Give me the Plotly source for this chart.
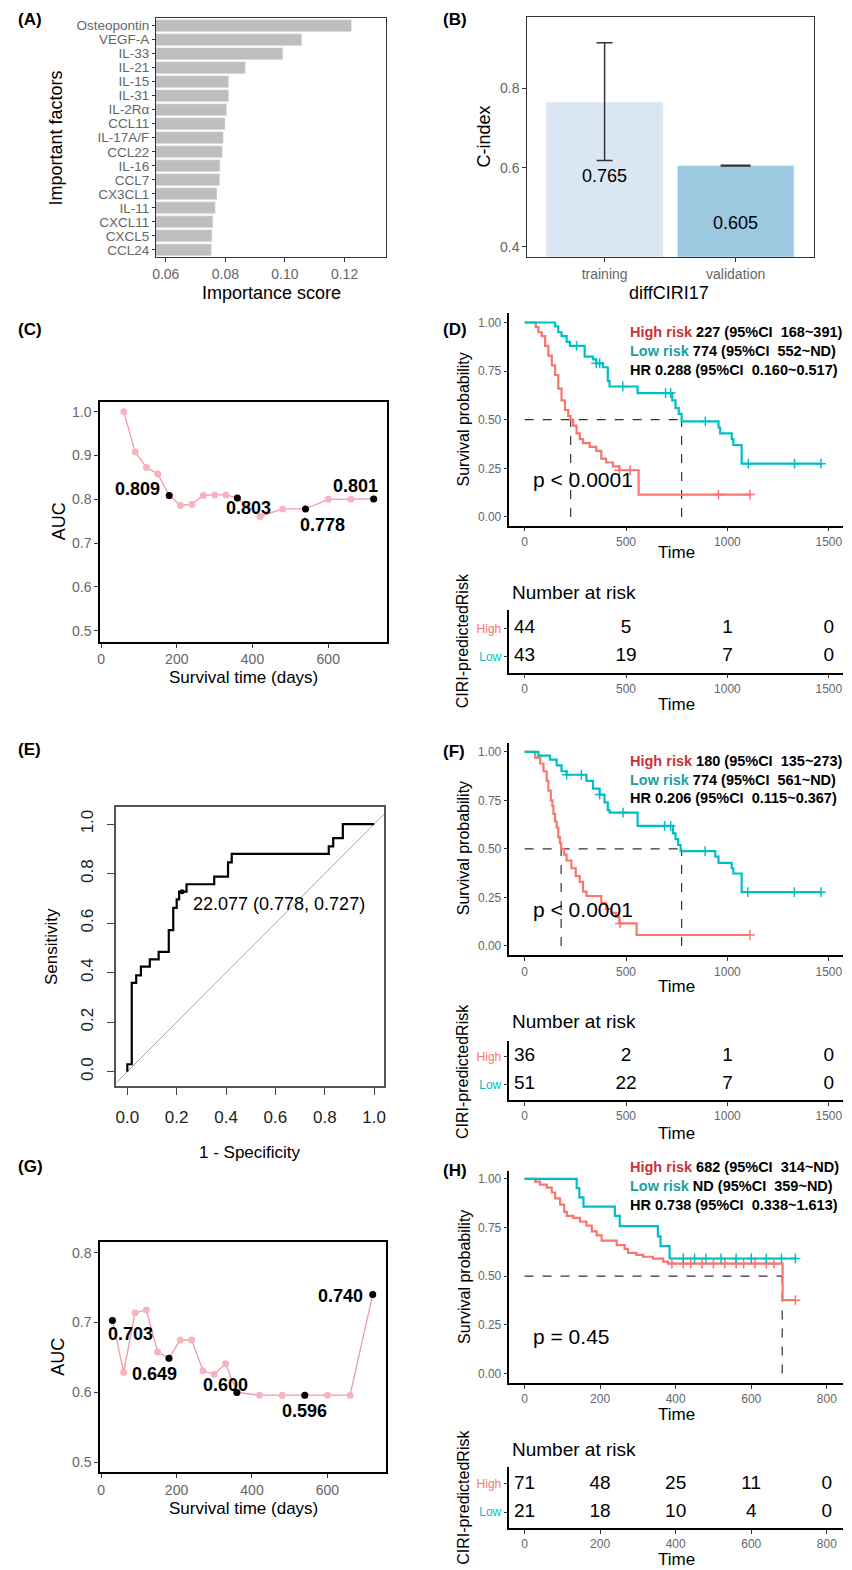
import plotly.graph_objects as go
import numpy as np

W, H = 852, 1570
FONT = "Liberation Sans, Arial, sans-serif"
NARROW = "Liberation Sans, Arial, sans-serif"
GREY = "#666666"
RED = "#F8766D"
TEAL = "#00BFC4"

# ---------------- data ----------------
factors = ["Osteopontin", "VEGF-A", "IL-33", "IL-21", "IL-15", "IL-31", "IL-2Rα", "CCL11",
           "IL-17A/F", "CCL22", "IL-16", "CCL7", "CX3CL1", "IL-11", "CXCL11", "CXCL5", "CCL24"]
importance = [0.1223, 0.1056, 0.0993, 0.0867, 0.0811, 0.0811, 0.0804, 0.0799,
              0.0793, 0.0790, 0.0782, 0.0781, 0.0772, 0.0766, 0.0758, 0.0755, 0.0753]

cohorts = ["training", "validation"]
cindex = [0.765, 0.605]
cindex_hi = [0.915, 0.606]
cindex_lo = [0.618, 0.604]

auc_c_days = [60, 90, 120, 150, 180, 210, 240, 270, 300, 330, 360, 420, 480, 540, 600, 660, 720]
auc_c = [1.0, 0.908, 0.873, 0.858, 0.809, 0.786, 0.789, 0.809, 0.81, 0.81, 0.803, 0.761, 0.778,
         0.778, 0.80, 0.80, 0.801]
auc_c_marked = [180, 360, 540, 720]

auc_g_days = [30, 60, 90, 120, 150, 180, 210, 240, 270, 300, 330, 360, 420, 480, 540, 600, 660, 720]
auc_g = [0.703, 0.629, 0.714, 0.718, 0.658, 0.649, 0.675, 0.675, 0.631, 0.626, 0.641, 0.600,
         0.596, 0.596, 0.596, 0.596, 0.596, 0.740]
auc_g_marked = [30, 180, 360, 540, 720]

roc_fpr = [0, 0.018, 0.036, 0.055, 0.091, 0.127, 0.168, 0.186, 0.2, 0.21, 0.24, 0.352, 0.408,
           0.423, 0.816, 0.834, 0.873, 1.0]
roc_tpr = [0, 0.03, 0.359, 0.389, 0.424, 0.454, 0.484, 0.572, 0.662, 0.696, 0.727, 0.757, 0.788,
           0.845, 0.88, 0.91, 0.943, 1.0]
roc_cut_fpr, roc_cut_tpr = 0.222, 0.727
roc_cut_label = "22.077 (0.778, 0.727)"

# KM (D)
d_high_t = [0, 55, 68, 85, 101, 117, 134, 150, 166, 182, 199, 215, 226, 239, 256, 272, 288, 321,
            353, 378, 402, 435, 467, 562, 1115]
d_high_s = [1.0, 0.977, 0.95, 0.93, 0.88, 0.83, 0.78, 0.73, 0.66, 0.60, 0.55, 0.52, 0.50, 0.47,
            0.43, 0.40, 0.38, 0.36, 0.34, 0.30, 0.28, 0.26, 0.24, 0.115, 0.115]
d_low_t = [0, 150, 166, 182, 207, 223, 296, 337, 353, 386, 410, 419, 557, 728, 744, 760, 774,
           956, 964, 1021, 1029, 1070, 1465]
d_low_s = [1.0, 0.98, 0.95, 0.93, 0.90, 0.88, 0.825, 0.81, 0.79, 0.77, 0.70, 0.671, 0.637, 0.60,
           0.56, 0.53, 0.491, 0.46, 0.43, 0.40, 0.37, 0.274, 0.274]
d_high_cens = [467, 520, 956, 1111]
d_low_cens = [256, 353, 370, 484, 695, 720, 891, 1103, 1331, 1461]
d_medians = [227, 774]
d_text = ["227 (95%CI\u00a0\u00a0168~391)", "774 (95%CI\u00a0\u00a0552~ND)", "HR 0.288 (95%CI\u00a0\u00a00.160~0.517)"]
d_p = "p < 0.0001"
d_times = [0, 500, 1000, 1500]
d_risk_high = [44, 5, 1, 0]
d_risk_low = [43, 19, 7, 0]

# KM (F)
f_high_t = [0, 52, 77, 93, 109, 117, 129, 137, 142, 150, 158, 166, 174, 180, 194, 207, 231, 252,
            272, 288, 305, 378, 402, 427, 451, 467, 552, 1111]
f_high_s = [1.0, 0.97, 0.94, 0.90, 0.85, 0.80, 0.75, 0.72, 0.68, 0.64, 0.61, 0.56, 0.53, 0.50,
            0.47, 0.44, 0.40, 0.36, 0.33, 0.28, 0.257, 0.22, 0.19, 0.17, 0.15, 0.116, 0.056, 0.056]
f_low_t = [0, 68, 125, 158, 182, 207, 305, 337, 370, 394, 410, 419, 557, 731, 744, 757, 769, 940,
           956, 1021, 1029, 1070, 1465]
f_low_s = [1.0, 0.98, 0.96, 0.93, 0.90, 0.882, 0.85, 0.81, 0.78, 0.74, 0.70, 0.687, 0.618, 0.58,
           0.55, 0.52, 0.488, 0.46, 0.428, 0.40, 0.373, 0.277, 0.277]
f_high_cens = [470, 1111]
f_low_cens = [207, 280, 370, 485, 690, 720, 890, 1100, 1330, 1461]
f_medians = [180, 774]
f_text = ["180 (95%CI\u00a0\u00a0135~273)", "774 (95%CI\u00a0\u00a0561~ND)", "HR 0.206 (95%CI\u00a0\u00a00.115~0.367)"]
f_p = "p < 0.0001"
f_times = [0, 500, 1000, 1500]
f_risk_high = [36, 2, 1, 0]
f_risk_low = [51, 22, 7, 0]

# KM (H)
h_high_t = [0, 28, 41, 59, 72, 81, 94, 105, 112, 129, 147, 164, 178, 191, 204, 244, 265, 274, 296,
            314, 340, 367, 380, 683, 717]
h_high_s = [1.0, 0.986, 0.97, 0.955, 0.93, 0.90, 0.868, 0.83, 0.81, 0.80, 0.78, 0.76, 0.73, 0.71,
            0.683, 0.66, 0.64, 0.62, 0.61, 0.60, 0.59, 0.575, 0.565, 0.377, 0.377]
h_low_t = [0, 138, 145, 156, 239, 252, 353, 360, 384, 717]
h_low_s = [1.0, 0.952, 0.905, 0.857, 0.81, 0.757, 0.705, 0.654, 0.591, 0.591]
h_high_cens = [390, 420, 440, 470, 500, 530, 560, 580, 610, 640, 660, 717]
h_low_cens = [420, 450, 480, 520, 560, 600, 640, 680, 717]
h_medians = [682]
h_text = ["682 (95%CI\u00a0\u00a0314~ND)", "ND (95%CI\u00a0\u00a0359~ND)", "HR 0.738 (95%CI\u00a0\u00a00.338~1.613)"]
h_p = "p = 0.45"
h_times = [0, 200, 400, 600, 800]
h_risk_high = [71, 48, 25, 11, 0]
h_risk_low = [21, 18, 10, 4, 0]

# ---------------- helpers ----------------
fig = go.Figure()
annotations = []
layout = {}


def xdom(a, b):
    return [a / W, b / W]


def ydom(top, bottom):
    return [1 - bottom / H, 1 - top / H]


def key(prefix, n):
    return prefix if n == 1 else f"{prefix}{n}"


def ref(prefix, n):
    return prefix if n == 1 else f"{prefix}{n}"


def ann(text, x, y, size, color="black", bold=False, xanchor="center", angle=0, family=FONT):
    annotations.append(dict(text=f"<b>{text}</b>" if bold else text, x=x / W, y=1 - y / H,
                            xref="paper", yref="paper", showarrow=False, xanchor=xanchor,
                            yanchor="middle", textangle=angle,
                            font=dict(size=size, color=color, family=family)))


def base_axis(**kw):
    d = dict(showgrid=False, zeroline=False, ticks="outside", ticklen=4, tickcolor="#333",
             tickfont=dict(size=14, color=GREY, family=FONT), showline=True, linecolor="#333",
             linewidth=1, mirror=False)
    d.update(kw)
    return d


def set_axes(n, xkw, ykw):
    xkw = dict(xkw)
    ykw = dict(ykw)
    xkw["anchor"] = ref("y", n)
    ykw["anchor"] = ref("x", n)
    layout[key("xaxis", n)] = xkw
    layout[key("yaxis", n)] = ykw


def surv_at(ts, ss, t):
    i = int(np.searchsorted(np.array(ts), t, side="right")) - 1
    return ss[max(i, 0)]


# ---------------- (A) ----------------
fig.add_trace(go.Bar(x=importance, y=factors, orientation="h", marker_color="#BEBEBE",
                     width=0.85, xaxis="x", yaxis="y"))
set_axes(1,
         base_axis(domain=xdom(153, 385), range=[0.0567, 0.134], tickvals=[0.06, 0.08, 0.10, 0.12],
                   ticktext=["0.06", "0.08", "0.10", "0.12"], mirror=True),
         base_axis(domain=ydom(18, 257), type="category", categoryorder="array",
                   categoryarray=factors, range=[16.5, -0.55], tickmode="array",
                   tickvals=factors, ticktext=factors, ticklen=3,
                   tickfont=dict(size=13.5, color=GREY, family=FONT), mirror=True))
ann("(A)", 12, 20, 17, bold=True, xanchor="left")
ann("Important factors", 52, 138, 18, angle=-90)
ann("Importance score", 269, 293, 18)

# ---------------- (B) ----------------
bar_cols = ["#DAE7F3", "#9DC9E0"]
cap_w = [8, 15]
for i in range(2):
    fig.add_trace(go.Bar(x=[cohorts[i]], y=[cindex[i]], marker_color=bar_cols[i], width=0.89,
                         error_y=dict(type="data", symmetric=False,
                                      array=[cindex_hi[i] - cindex[i]],
                                      arrayminus=[cindex[i] - cindex_lo[i]],
                                      color="#333", thickness=1.5, width=cap_w[i]),
                         xaxis="x2", yaxis="y2"))
set_axes(2,
         base_axis(domain=xdom(527, 816), type="category", categoryorder="array",
                   categoryarray=cohorts, range=[-0.59, 1.6], mirror=True),
         base_axis(domain=ydom(17, 257), range=[0.375, 0.98], tickvals=[0.4, 0.6, 0.8],
                   ticktext=["0.4", "0.6", "0.8"], mirror=True))
bar_label_y = [0.58, 0.4615]
for i in range(2):
    annotations.append(dict(text=f"{cindex[i]:.3f}", x=cohorts[i], y=bar_label_y[i], xref="x2",
                            yref="y2", showarrow=False, font=dict(size=18, color="black", family=FONT)))
ann("(B)", 440, 20, 17, bold=True, xanchor="left")
ann("C-index", 483, 137, 18, angle=-90)
ann("diffCIRI17", 670, 293, 18)


# ---------------- (C) and (G) ----------------
def auc_panel(n, days, vals, marked, xd, yd, yrange, yticks, offsets):
    xs, ys = "x" + str(n), "y" + str(n)
    fig.add_trace(go.Scatter(x=days, y=vals, mode="lines+markers",
                             line=dict(color="#F29AA0", width=1.3),
                             marker=dict(color="#F6B3C0", size=7), xaxis=xs, yaxis=ys))
    mv = [vals[days.index(d)] for d in marked]
    fig.add_trace(go.Scatter(x=marked, y=mv, mode="markers", marker=dict(color="black", size=7),
                             xaxis=xs, yaxis=ys))
    for d, v, (dx, dy) in zip(marked, mv, offsets):
        annotations.append(dict(text=f"<b>{v:.3f}</b>", x=d, y=v, xref=xs, yref=ys, showarrow=False,
                                xshift=dx, yshift=dy, font=dict(size=18, color="black", family=FONT)))
    set_axes(n,
             base_axis(domain=xd, range=[-2, 756], tickvals=[0, 200, 400, 600],
                       linecolor="black", linewidth=2, mirror=True),
             base_axis(domain=yd, range=yrange, tickvals=yticks,
                       ticktext=[f"{t:.1f}" for t in yticks],
                       linecolor="black", linewidth=2, mirror=True))


auc_panel(3, auc_c_days, auc_c, auc_c_marked, xdom(97, 386), ydom(402, 642), [0.475, 1.023],
          [0.5, 0.6, 0.7, 0.8, 0.9, 1.0], [(-32, 6), (11, -10), (17, -16), (-18, 13)])
ann("(C)", 12, 330, 17, bold=True, xanchor="left")
ann("AUC", 55, 522, 18, angle=-90)
ann("Survival time (days)", 241, 678, 17)

auc_panel(9, auc_g_days, auc_g, auc_g_marked, xdom(97, 385), ydom(1243, 1473), [0.486, 0.815],
          [0.5, 0.6, 0.7, 0.8], [(18, -14), (-14, -16), (-11, 7), (0, -16), (-32, -1)])
ann("(G)", 12, 1167, 17, bold=True, xanchor="left")
ann("AUC", 55, 1358, 18, angle=-90)
ann("Survival time (days)", 241, 1509, 17)

# ---------------- (E) ROC ----------------
fig.add_trace(go.Scatter(x=[-0.2, 1.2], y=[-0.2, 1.2], mode="lines",
                         line=dict(color="#AAAAAA", width=1), xaxis="x6", yaxis="y6"))
fig.add_trace(go.Scatter(x=roc_fpr, y=roc_tpr, mode="lines", line=dict(color="black", width=2.2, shape="vh"),
                         xaxis="x6", yaxis="y6"))
fig.add_trace(go.Scatter(x=[roc_cut_fpr], y=[roc_cut_tpr], mode="markers",
                         marker=dict(color="black", size=5), xaxis="x6", yaxis="y6"))
annotations.append(dict(text=roc_cut_label, x=roc_cut_fpr, y=roc_cut_tpr, xref="x6", yref="y6",
                        showarrow=False, xanchor="left", xshift=9, yshift=-12,
                        font=dict(size=18, color="black", family=FONT)))
roc_ticks = [0, 0.2, 0.4, 0.6, 0.8, 1.0]
set_axes(6,
         base_axis(domain=xdom(113, 383), range=[-0.045, 1.041], tickvals=roc_ticks,
                   ticktext=[f"{t:.1f}" for t in roc_ticks], ticklen=7, tickcolor="#444",
                   tickfont=dict(size=17, color="#222", family=FONT), ticklabelstandoff=8,
                   linecolor="#555", linewidth=1.5, mirror=True),
         base_axis(domain=ydom(808, 1087), range=[-0.059, 1.067], tickvals=roc_ticks,
                   ticktext=[f"{t:.1f}" for t in roc_ticks], ticklen=7, tickcolor="#444",
                   tickangle=-90, tickfont=dict(size=17, color="#222", family=FONT),
                   ticklabelstandoff=8, linecolor="#555", linewidth=1.5, mirror=True))
ann("(E)", 12, 750, 17, bold=True, xanchor="left")
ann("Sensitivity", 48, 947, 17, angle=-90)
ann("1 - Specificity", 248, 1153, 17)


# ---------------- KM panels ----------------
def km_panel(n, high_t, high_s, low_t, low_s, hc, lc, medians, texts, xd, yd, yrange, xrange,
             xticks, top):
    xs, ys = ref("x", n), ref("y", n)
    mx = max(medians)
    fig.add_trace(go.Scatter(x=[0, mx], y=[0.5, 0.5], mode="lines",
                             line=dict(color="#333", width=1.2, dash="dash"), xaxis=xs, yaxis=ys))
    for m in medians:
        fig.add_trace(go.Scatter(x=[m, m], y=[0, 0.5], mode="lines",
                                 line=dict(color="#333", width=1.2, dash="dash"), xaxis=xs, yaxis=ys))
    for ts, ss, cens, col in [(high_t, high_s, hc, RED), (low_t, low_s, lc, TEAL)]:
        fig.add_trace(go.Scatter(x=ts, y=ss, mode="lines", line=dict(color=col, width=2.2, shape="hv"),
                                 xaxis=xs, yaxis=ys))
        fig.add_trace(go.Scatter(x=cens, y=[surv_at(ts, ss, c) for c in cens], mode="markers",
                                 marker=dict(symbol="cross-thin", size=7, line=dict(color=col, width=1.5)),
                                 xaxis=xs, yaxis=ys))
    set_axes(n,
             base_axis(domain=xd, range=xrange, tickvals=xticks, linecolor="black", linewidth=1.5,
                       tickfont=dict(size=12, color=GREY, family=FONT)),
             base_axis(domain=yd, range=yrange, tickvals=[0, 0.25, 0.5, 0.75, 1.0],
                       ticktext=["0.00", "0.25", "0.50", "0.75", "1.00"], linecolor="black",
                       linewidth=1.5, tickfont=dict(size=12, color=GREY, family=FONT)))
    labels = ["<span style='color:#C9313A'>High risk</span> ", "<span style='color:#20A0A0'>Low risk</span> ", ""]
    for i, t in enumerate(texts):
        ann(labels[i] + t, 628, top + i * 19, 14.5, bold=True, xanchor="left", family=NARROW)


def risk_table(n, times, hi, lo, xd, yd, yrange, xrange):
    xs, ys = ref("x", n), ref("y", n)
    fig.add_trace(go.Scatter(x=times, y=[2] * len(times), mode="text", text=[str(v) for v in hi],
                             textfont=dict(size=19, color="black", family=FONT), cliponaxis=False,
                             xaxis=xs, yaxis=ys))
    fig.add_trace(go.Scatter(x=times, y=[1] * len(times), mode="text", text=[str(v) for v in lo],
                             textfont=dict(size=19, color="black", family=FONT), cliponaxis=False,
                             xaxis=xs, yaxis=ys))
    set_axes(n,
             base_axis(domain=xd, range=xrange, tickvals=times, linecolor="black", linewidth=1.5,
                       tickfont=dict(size=12, color=GREY, family=FONT)),
             base_axis(domain=yd, range=yrange, tickvals=[2, 1],
                       ticktext=[f"<span style='color:{RED}'>High</span>",
                                 f"<span style='color:{TEAL}'>Low</span>"],
                       linecolor="black", linewidth=1.5, tickfont=dict(size=12, color=GREY, family=FONT)))


# D
km_panel(4, d_high_t, d_high_s, d_low_t, d_low_s, d_high_cens, d_low_cens, d_medians, d_text,
         xdom(509, 845), ydom(313, 526), [-0.045, 1.05], [-75, 1570], d_times, 332)
ann("(D)", 440, 330, 17, bold=True, xanchor="left")
ann(d_p, 531, 480, 21, xanchor="left")
ann("Survival probability", 463, 420, 16, angle=-90)
ann("Time", 677, 553, 17)
risk_table(5, d_times, d_risk_high, d_risk_low, xdom(509, 845), ydom(610, 673), [0.43, 2.68], [-75, 1570])
ann("Number at risk", 510, 593, 19, xanchor="left")
ann("CIRI-predictedRisk", 462, 641, 16, angle=-90)
ann("Time", 677, 705, 17)

# F
km_panel(7, f_high_t, f_high_s, f_low_t, f_low_s, f_high_cens, f_low_cens, f_medians, f_text,
         xdom(509, 845), ydom(743, 956), [-0.049, 1.048], [-75, 1570], f_times, 761)
ann("(F)", 440, 752, 17, bold=True, xanchor="left")
ann(f_p, 531, 910, 21, xanchor="left")
ann("Survival probability", 463, 849, 16, angle=-90)
ann("Time", 677, 987, 17)
risk_table(8, f_times, f_risk_high, f_risk_low, xdom(509, 845), ydom(1042, 1101), [0.43, 2.54], [-75, 1570])
ann("Number at risk", 510, 1022, 19, xanchor="left")
ann("CIRI-predictedRisk", 462, 1072, 16, angle=-90)
ann("Time", 677, 1134, 17)

# H
km_panel(10, h_high_t, h_high_s, h_low_t, h_low_s, h_high_cens, h_low_cens, h_medians, h_text,
         xdom(509, 845), ydom(1172, 1384), [-0.049, 1.039], [-40, 843], h_times, 1168)
ann("(H)", 440, 1171, 17, bold=True, xanchor="left")
ann(h_p, 531, 1337, 21, xanchor="left")
ann("Survival probability", 463, 1278, 16, angle=-90)
ann("Time", 677, 1415, 17)
risk_table(11, h_times, h_risk_high, h_risk_low, xdom(509, 845), ydom(1468, 1529), [0.43, 2.6], [-40, 843])
ann("Number at risk", 510, 1450, 19, xanchor="left")
ann("CIRI-predictedRisk", 462, 1498, 16, angle=-90)
ann("Time", 677, 1560, 17)

fig.update_layout(width=W, height=H, margin=dict(l=0, r=0, t=0, b=0), showlegend=False,
                  plot_bgcolor="white", paper_bgcolor="white", font=dict(family=FONT),
                  annotations=annotations, **layout)
fig.write_html("out.html")
